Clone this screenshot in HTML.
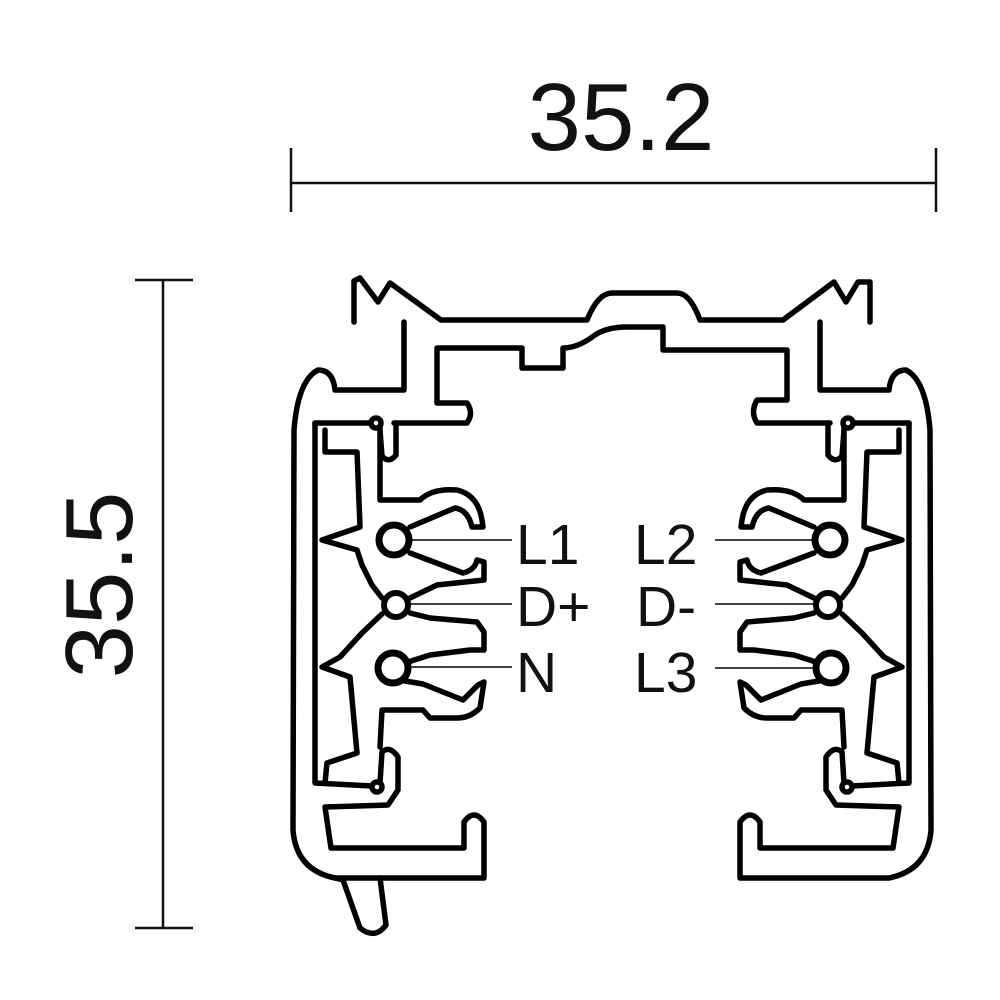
<!DOCTYPE html>
<html><head><style>body{margin:0;background:#fff}svg{display:block}</style></head>
<body>
<svg width="1000" height="1000" viewBox="0 0 1000 1000" xmlns="http://www.w3.org/2000/svg">
<rect width="1000" height="1000" fill="#fff"/>
<g stroke="#111" stroke-width="2.5" fill="none">
<line x1="291" y1="183" x2="936" y2="183"/>
<line x1="291" y1="148" x2="291" y2="212"/>
<line x1="936" y1="148" x2="936" y2="212"/>
<line x1="163" y1="280" x2="163" y2="928"/>
<line x1="135" y1="280" x2="193" y2="280"/>
<line x1="135" y1="928" x2="193" y2="928"/>
</g>
<text x="621" y="150" font-family="Liberation Sans, sans-serif" font-size="96" text-anchor="middle" fill="#111">35.2</text>
<text transform="translate(132,585) rotate(-90)" x="0" y="0" font-family="Liberation Sans, sans-serif" font-size="96" text-anchor="middle" fill="#111">35.5</text>

<g stroke="#000" stroke-width="5.5" fill="none" stroke-linejoin="round" stroke-linecap="round">
<path d="M354,322 L354,281 L360,278 L366,286 L378,302 L390,283 L441,320 L587,320 Q598,293 612,293 L677,293 Q690,293 700,320 L783,320 L834,282 L846,302 L858,282 L870,282 L870,322"/>
<path d="M394,423 L467,423 Q474,413 467,403 L437,403 L437,348 L522,348 L522,368 L563,368 L563,348 Q578,348 595,335 Q607,327 627,327 L663,327 L663,350 L787,350 L787,400 L757,400 Q750,412 757,423 L830,423"/>
<path d="M335,878 L343,880 L360,928 Q375,940 386,925 L380,878"/>
</g>

<g id="half" stroke="#000" stroke-width="5.5" fill="none" stroke-linejoin="round" stroke-linecap="round">
<path d="M404,322 L404,390 L335,390 Q333,370 318,370 Q298,380 294,430 L293,830 Q296,870 335,878 L484,878 L484,822 Q474,808 464,822 L464,848 L331,848 L325,807 L388,805 L398,790 L398,757 Q390,745 382,752 L380,783"/>
<path d="M396,423 L396,455 Q389,464 382,456 L380,430"/>
<path d="M315,423 L315,783 L372,786"/>
<path d="M315,423 L371,423"/>
<path d="M325,430 L325,452 L357,452 L360,527 L322,540 L357,550 L362,565 L372,585 L382,598"/>
<path d="M382,614 L362,633 L340,657 L322,667 L350,677 L357,753 L327,763 L325,783"/>
<path d="M380,427 L380,500 L420,500 Q432,488 457,490 Q478,495 482,520 L483,527 L472,527 Q468,510 455,508 L410,527"/>
<path d="M410,553 L463,573 Q475,570 477,560 L484,562 L484,580 L437,585 L410,598"/>
<path d="M410,613 L430,618 L477,622 L484,632 L484,650 L470,650 L430,655 L405,663"/>
<path d="M405,681 L423,684 L463,700 L478,685 L484,682 L480,708 Q470,718 457,718 L430,718 L423,710 L382,710 L380,747"/>
<circle cx="376" cy="423" r="5" fill="#fff"/>
<circle cx="377" cy="787" r="5" fill="#fff"/>
<circle cx="394" cy="540" r="15" fill="#fff" stroke-width="7"/>
<circle cx="396" cy="605" r="12" fill="#fff" stroke-width="6"/>
<circle cx="393" cy="668" r="15" fill="#fff" stroke-width="7"/>
</g>
<use href="#half" transform="matrix(-1,0,0,1,1224,0)"/>

<g stroke="#000" stroke-width="1.6">
<line x1="410" y1="540" x2="512" y2="540"/>
<line x1="409" y1="604" x2="512" y2="604"/>
<line x1="408" y1="667" x2="512" y2="667"/>
<line x1="715" y1="540" x2="815" y2="540"/>
<line x1="715" y1="604" x2="816" y2="604"/>
<line x1="715" y1="668" x2="815" y2="668"/>
</g>
<g font-family="Liberation Sans, sans-serif" font-size="57" fill="#111">
<text x="516" y="564">L1</text>
<text x="516" y="626">D+</text>
<text x="516" y="692">N</text>
<text x="634" y="564">L2</text>
<text x="636" y="626">D-</text>
<text x="634" y="692">L3</text>
</g>
</svg>
</body></html>
